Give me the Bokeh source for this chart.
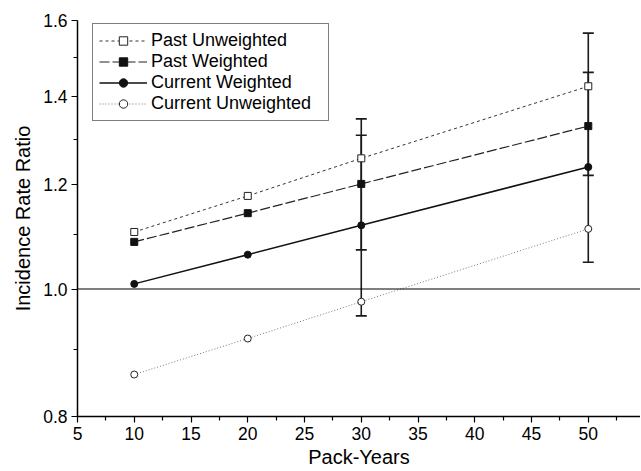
from bokeh.plotting import figure
from bokeh.models import (Range1d, FixedTicker, PrintfTickFormatter, Span, Whisker,
                          ColumnDataSource, TeeHead, Legend, LegendItem)
from bokeh.embed import file_html
from bokeh.resources import INLINE

# ---- data ----
pack_years = [10, 20, 30, 50]
past_unweighted = [1.105, 1.177, 1.257, 1.426]
past_weighted = [1.086, 1.142, 1.202, 1.330]
current_weighted = [1.009, 1.062, 1.118, 1.238]
current_unweighted = [0.861, 0.917, 0.978, 1.111]

err_x = [30, 50]
past_weighted_lower = [1.071, 1.220]
past_weighted_upper = [1.347, 1.565]
current_weighted_lower = [0.954, 1.048]
current_weighted_upper = [1.309, 1.461]

reference_level = 1.0
y_major = [0.8, 1.0, 1.2, 1.4, 1.6]
y_minor = [0.9, 1.1, 1.3, 1.5]
x_major = [5, 10, 15, 20, 25, 30, 35, 40, 45, 50]
x_minor = [7.5, 12.5, 17.5, 22.5, 27.5, 32.5, 37.5, 42.5, 47.5, 52.5]

FONT = "Liberation Sans"

p = figure(width=640, height=471, output_backend="svg", toolbar_location=None,
           y_axis_type="log", x_range=Range1d(5, 54.6), y_range=Range1d(0.8, 1.6),
           min_border_left=77, min_border_right=0, min_border_top=20, min_border_bottom=55)
p.outline_line_color = None
p.xgrid.visible = False
p.ygrid.visible = False
p.background_fill_color = "white"
p.border_fill_color = "white"

# axes
p.xaxis.ticker = FixedTicker(ticks=x_major, minor_ticks=x_minor)
p.yaxis.ticker = FixedTicker(ticks=y_major, minor_ticks=y_minor)
p.yaxis.formatter = PrintfTickFormatter(format="%.1f")
for ax in (p.xaxis[0], p.yaxis[0]):
    ax.axis_line_color = "black"
    ax.axis_line_width = 1.5
    ax.major_tick_line_color = "black"
    ax.minor_tick_line_color = "black"
    ax.major_tick_line_width = 1.2
    ax.minor_tick_line_width = 1.2
    ax.major_tick_in = 0
    ax.major_tick_out = 6
    ax.minor_tick_in = 0
    ax.minor_tick_out = 4
    ax.major_label_text_font = FONT
    ax.major_label_text_font_size = "17.5px"
    ax.major_label_text_color = "black"
    ax.axis_label_text_font = FONT
    ax.axis_label_text_font_size = "20px"
    ax.axis_label_text_font_style = "normal"
    ax.axis_label_text_color = "black"
p.xaxis.axis_label = "Pack-Years"
p.yaxis.axis_label = "Incidence Rate Ratio"
p.xaxis.major_label_standoff = 4
p.xaxis.axis_label_standoff = 3
p.yaxis.major_label_standoff = 4
p.yaxis.axis_label_standoff = 6

# reference line
p.add_layout(Span(location=reference_level, dimension="width", line_color="black", line_width=1.2))

# error bars
for lo, hi in ((past_weighted_lower, past_weighted_upper),
               (current_weighted_lower, current_weighted_upper)):
    src = ColumnDataSource(dict(x=err_x, lower=lo, upper=hi))
    w = Whisker(source=src, base="x", lower="lower", upper="upper", dimension="height",
                line_color="#1a1a1a", line_width=1.6,
                upper_head=TeeHead(size=11, line_color="#1a1a1a", line_width=1.6),
                lower_head=TeeHead(size=11, line_color="#1a1a1a", line_width=1.6))
    p.add_layout(w)

items = []
# Past Unweighted
l1 = p.line(pack_years, past_unweighted, line_color="#333333", line_width=1, line_dash="3 3")
m1 = p.scatter(pack_years, past_unweighted, marker="square", size=7, fill_color="white",
               line_color="#222222", line_width=1)
items.append(LegendItem(label="Past Unweighted", renderers=[l1, m1]))
# Past Weighted
l2 = p.line(pack_years, past_weighted, line_color="#222222", line_width=1.2, line_dash="10 3")
m2 = p.scatter(pack_years, past_weighted, marker="square", size=7, fill_color="#111111",
               line_color="#111111", line_width=1)
items.append(LegendItem(label="Past Weighted", renderers=[l2, m2]))
# Current Weighted
l3 = p.line(pack_years, current_weighted, line_color="#111111", line_width=1.5)
m3 = p.scatter(pack_years, current_weighted, marker="circle", size=7, fill_color="#111111",
               line_color="#111111", line_width=1)
items.append(LegendItem(label="Current Weighted", renderers=[l3, m3]))
# Current Unweighted
l4 = p.line(pack_years, current_unweighted, line_color="#777777", line_width=1, line_dash="1 2")
m4 = p.scatter(pack_years, current_unweighted, marker="circle", size=7, fill_color="white",
               line_color="#222222", line_width=1)
items.append(LegendItem(label="Current Unweighted", renderers=[l4, m4]))

legend = Legend(items=items, location=(15, 295), orientation="vertical",
                label_text_font=FONT, label_text_font_size="18px", label_text_color="black",
                glyph_width=48, glyph_height=21, label_height=21, label_width=171, spacing=0,
                padding=6, margin=0, label_standoff=4,
                border_line_color="black", border_line_width=1.2,
                background_fill_color="white", background_fill_alpha=1)
p.add_layout(legend, "center")

open("out.html", "w").write(file_html(p, INLINE))
